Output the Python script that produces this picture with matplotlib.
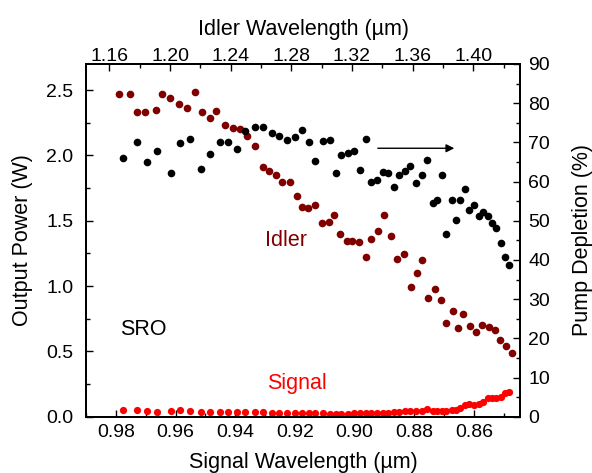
import matplotlib
matplotlib.use("Agg")
import matplotlib.pyplot as plt
from matplotlib.ticker import MultipleLocator

plt.rcParams['font.family'] = ['Liberation Sans', 'DejaVu Sans']

# Pump depletion (%) vs signal wavelength (um)
pd_wl = [0.9777, 0.9729, 0.9695, 0.9661, 0.9616, 0.9585, 0.9551, 0.9515, 0.9485, 0.9451,
         0.9424, 0.9395, 0.9367, 0.9334, 0.9307, 0.9278, 0.9253, 0.9225, 0.9199, 0.9177,
         0.9152, 0.9132, 0.9105, 0.9082, 0.9063, 0.9044, 0.9021, 0.9001, 0.8981, 0.8961,
         0.8945, 0.8924, 0.8906, 0.8887, 0.8868, 0.8850, 0.8830, 0.8813, 0.8794, 0.8774,
         0.8757, 0.8737, 0.8722, 0.8708, 0.8694, 0.8674, 0.8658, 0.8645, 0.8628, 0.8616,
         0.8600, 0.8584, 0.8569, 0.8553, 0.8539, 0.8524, 0.8510, 0.8497, 0.8483]
pump_depletion = [66.0, 70.2, 65.0, 67.8, 62.2, 69.9, 70.9, 63.3, 67.1, 70.0,
                  70.0, 68.2, 72.8, 73.8, 74.0, 72.5, 71.5, 70.7, 71.4, 73.2,
                  70.0, 65.3, 70.3, 70.5, 62.2, 66.9, 67.2, 67.8, 63.0, 70.9,
                  60.0, 60.5, 62.5, 62.1, 58.7, 61.7, 62.6, 64.0, 59.6, 61.6,
                  65.4, 54.5, 55.4, 61.7, 46.6, 55.3, 50.3, 55.4, 58.1, 52.8,
                  54.1, 51.2, 52.2, 51.2, 49.4, 48.1, 44.4, 40.8, 38.7]
# Signal output power (W), same wavelengths
signal_power = [0.049, 0.054, 0.046, 0.034, 0.041, 0.049, 0.046, 0.034, 0.036, 0.036,
                0.038, 0.038, 0.038, 0.038, 0.036, 0.031, 0.031, 0.031, 0.028, 0.028,
                0.028, 0.031, 0.025, 0.020, 0.022, 0.022, 0.024, 0.025, 0.025, 0.027,
                0.026, 0.027, 0.027, 0.030, 0.033, 0.036, 0.040, 0.042, 0.045, 0.047,
                0.060, 0.042, 0.040, 0.046, 0.040, 0.050, 0.055, 0.070, 0.092, 0.094,
                0.090, 0.100, 0.110, 0.145, 0.142, 0.142, 0.153, 0.178, 0.190]
# Idler output power (W) vs signal wavelength (um)
idler_wl = [0.9788, 0.9753, 0.9728, 0.9702, 0.9667, 0.9644, 0.9617, 0.9588, 0.9562, 0.9533,
            0.9511, 0.9485, 0.9463, 0.9434, 0.9408, 0.9383, 0.9360, 0.9334, 0.9308, 0.9287,
            0.9262, 0.9243, 0.9216, 0.9194, 0.9175, 0.9155, 0.9132, 0.9109, 0.9087, 0.9067,
            0.9048, 0.9026, 0.9008, 0.8985, 0.8963, 0.8943, 0.8921, 0.8902, 0.8878, 0.8856,
            0.8833, 0.8809, 0.8791, 0.8773, 0.8754, 0.8731, 0.8711, 0.8692, 0.8670, 0.8653,
            0.8635, 0.8612, 0.8591, 0.8571, 0.8550, 0.8529, 0.8511, 0.8493, 0.8473]
idler_power = [2.469, 2.469, 2.331, 2.334, 2.350, 2.472, 2.436, 2.393, 2.365, 2.482,
               2.331, 2.288, 2.342, 2.235, 2.209, 2.204, 2.145, 2.074, 1.915, 1.879,
               1.851, 1.800, 1.798, 1.687, 1.606, 1.595, 1.623, 1.480, 1.488, 1.544,
               1.401, 1.347, 1.347, 1.334, 1.222, 1.363, 1.419, 1.544, 1.383, 1.204,
               1.248, 0.995, 1.100, 1.199, 0.905, 0.977, 0.897, 0.721, 0.811, 0.678,
               0.790, 0.698, 0.652, 0.703, 0.690, 0.665, 0.588, 0.540, 0.491]

fig = plt.figure(figsize=(5.92, 4.73), dpi=100)
ax = fig.add_axes([0.1453, 0.119, 0.7331, 0.7457])

ax.plot(idler_wl, idler_power, 'o', color='#800000', ms=5.5, mec='none')
ax.plot(pd_wl, signal_power, 'o', color='#ff0000', ms=5.2, mec='none')
ax.set_xlim(0.99, 0.8445)
ax.set_ylim(0, 2.7)
ax.xaxis.set_major_locator(MultipleLocator(0.02))
ax.xaxis.set_minor_locator(MultipleLocator(0.01))
ax.yaxis.set_major_locator(MultipleLocator(0.5))
ax.yaxis.set_minor_locator(MultipleLocator(0.25))
ax.xaxis.set_major_formatter(matplotlib.ticker.FormatStrFormatter('%.2f'))
ax.yaxis.set_major_formatter(matplotlib.ticker.FormatStrFormatter('%.1f'))
ax.set_xlabel('Signal Wavelength (µm)', fontsize=15.5, labelpad=8)
ax.set_ylabel('Output Power (W)', fontsize=15.5, labelpad=10)

ax2 = ax.twinx()
ax2.plot(pd_wl, pump_depletion, 'o', color='black', ms=5.5, mec='none')
ax2.set_ylim(0, 90)
ax2.yaxis.set_major_locator(MultipleLocator(10))
ax2.yaxis.set_minor_locator(MultipleLocator(5))
ax2.set_ylabel('Pump Depletion (%)', fontsize=15.5, labelpad=16)

ax3 = ax.twiny()
ax3.set_xlim(1.1446, 1.4308)
ax3.xaxis.set_major_locator(MultipleLocator(0.04))
ax3.xaxis.set_minor_locator(MultipleLocator(0.02))
ax3.xaxis.set_major_formatter(matplotlib.ticker.FormatStrFormatter('%.2f'))
ax3.set_xlabel('Idler Wavelength (µm)', fontsize=15.5, labelpad=9)

for a in (ax, ax2, ax3):
    a.tick_params(which='major', direction='in', length=5, width=1.0, labelsize=14)
    a.tick_params(which='minor', direction='in', length=3, width=1.0)
    for s in a.spines.values():
        s.set_linewidth(1.2)
ax.tick_params(axis='x', which='both', top=False, pad=5)
ax.tick_params(axis='y', which='both', right=False, pad=9)
ax2.tick_params(axis='y', which='both', left=False, pad=6)
ax3.tick_params(axis='x', which='both', bottom=False, pad=-0.5)

ax2.annotate('', xy=(0.8656, 68.5), xytext=(0.8931, 68.5),
             arrowprops=dict(arrowstyle='-|>', color='black', lw=1.0, mutation_scale=12))

ax.text(0.461, 0.501, 'Idler', transform=ax.transAxes, color='#800000',
        fontsize=15.5, ha='center', va='center')
ax.text(0.486, 0.0955, 'Signal', transform=ax.transAxes, color='#ff0000',
        fontsize=15.5, ha='center', va='center')
ax.text(0.131, 0.246, 'SRO', transform=ax.transAxes, color='black',
        fontsize=15.5, ha='center', va='center')

fig.savefig('out.png', dpi=100)
